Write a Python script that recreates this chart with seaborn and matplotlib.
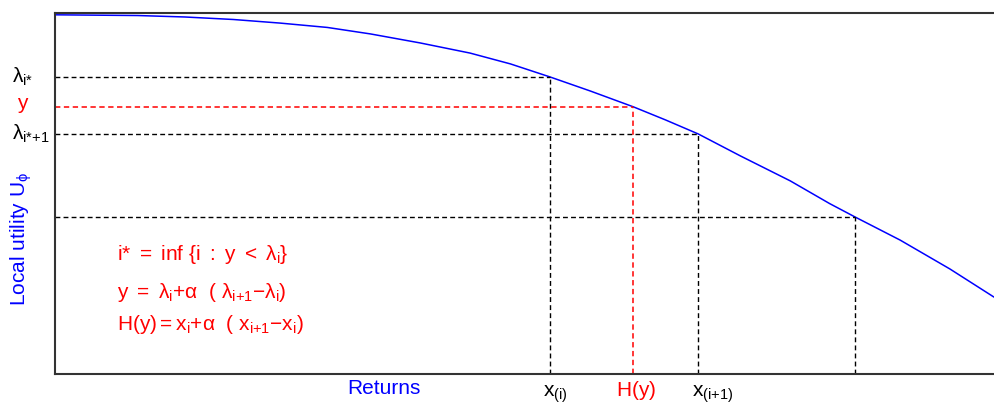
import matplotlib
matplotlib.use("Agg")
import matplotlib.pyplot as plt
import seaborn as sns
import pandas as pd

# ---- data (arbitrary units, 0..10) ----
returns = [0.0, 0.88, 1.38, 1.90, 2.40, 2.90, 3.36, 3.89, 4.42, 4.85, 5.27, 5.70,
           6.16, 6.50, 6.85, 7.30, 7.83, 8.25, 8.52, 9.00, 9.53, 10.0]
utility = [9.95, 9.93, 9.89, 9.82, 9.72, 9.60, 9.42, 9.17, 8.89, 8.59, 8.23, 7.84,
           7.40, 7.04, 6.65, 6.04, 5.35, 4.72, 4.35, 3.71, 2.91, 2.13]

knot_x = [5.27, 6.85, 8.52]      # x_(i), x_(i+1), next knot
knot_u = [8.23, 6.65, 4.35]      # lambda_{i*}, lambda_{i*+1}, next lambda
h_x = 6.16                       # H(y)
h_y = 7.40                       # y

left_labels = [r"$\lambda_{i{*}}$", r"$y$", r"$\lambda_{i{*}{+}1}$"]
bottom_labels = [r"$x_{(i)}$", r"$H(y)$", r"$x_{(i{+}1)}$"]
formulas = [r"$i{*}\ =\ inf\ \{i\ :\ y\ <\ \lambda_i\}$",
            r"$y\ =\ \lambda_i{+}\alpha\ \ (\ \lambda_{i{+}1}{-}\lambda_i)$",
            r"$H(y){=}x_i{+}\alpha\ \ (\ x_{i{+}1}{-}x_i)$"]

sns.set_style("white")
plt.rcParams["font.family"] = ["Liberation Sans", "DejaVu Sans"]
plt.rcParams["mathtext.fontset"] = "custom"
plt.rcParams["mathtext.rm"] = "Liberation Sans"
plt.rcParams["mathtext.it"] = "Liberation Sans"
plt.rcParams["mathtext.bf"] = "Liberation Sans:bold"
plt.rcParams["mathtext.default"] = "regular"

fig = plt.figure(figsize=(9.94, 4.15), dpi=100)
ax = fig.add_axes([55 / 994, 41 / 415, 939 / 994, 361 / 415])

df = pd.DataFrame({"Returns": returns, "U": utility})
sns.lineplot(data=df, x="Returns", y="U", ax=ax, color="#0000ff", lw=1.1,
             sort=False, estimator=None)

dash = (3.5, 2.3)
# black guide lines
for kx, ku in zip(knot_x, knot_u):
    ax.plot([0, kx], [ku, ku], color="black", lw=1.0, dashes=dash)
    ax.plot([kx, kx], [0, ku], color="black", lw=1.0, dashes=dash)
# red guide lines
ax.plot([0, h_x], [h_y, h_y], color="#ff0000", lw=1.1, dashes=dash)
ax.plot([h_x, h_x], [0, h_y], color="#ff0000", lw=1.1, dashes=dash)

ax.set_xlim(0, 10)
ax.set_ylim(0, 10)
ax.set_xticks([])
ax.set_yticks([])
ax.set_xlabel("")
ax.set_ylabel("")
for s in ["left", "bottom", "top"]:
    ax.spines[s].set_color("#333333")
    ax.spines[s].set_linewidth(1.5)
ax.spines["right"].set_visible(False)

fs = 15
# left labels
ax.text(-0.46, knot_u[0], left_labels[0], color="black", fontsize=fs,
        ha="left", va="center", clip_on=False)
ax.text(-0.40, h_y + 0.05, left_labels[1], color="#ff0000", fontsize=fs,
        ha="left", va="center", clip_on=False)
ax.text(-0.46, knot_u[1], left_labels[2], color="black", fontsize=fs,
        ha="left", va="center", clip_on=False)

# y label
ax.text(-0.36, 3.75, r"Local utility $U_\phi$", color="#0000ff", fontsize=fs,
        rotation=90, ha="center", va="center", clip_on=False)

# bottom labels
ax.text(3.50, -0.40, "Returns", color="#0000ff", fontsize=fs,
        ha="center", va="center", clip_on=False)
ax.text(knot_x[0] - 0.07, -0.55, bottom_labels[0], color="black", fontsize=fs,
        ha="left", va="center", clip_on=False)
ax.text(h_x + 0.03, -0.45, bottom_labels[1], color="#ff0000", fontsize=fs,
        ha="center", va="center", clip_on=False)
ax.text(knot_x[1] - 0.07, -0.55, bottom_labels[2], color="black", fontsize=fs,
        ha="left", va="center", clip_on=False)

# formulas
for yy, f in zip([3.30, 2.27, 1.36], formulas):
    ax.text(0.66, yy, f, color="#ff0000", fontsize=fs, ha="left", va="center")

fig.savefig("out.png", dpi=100)
